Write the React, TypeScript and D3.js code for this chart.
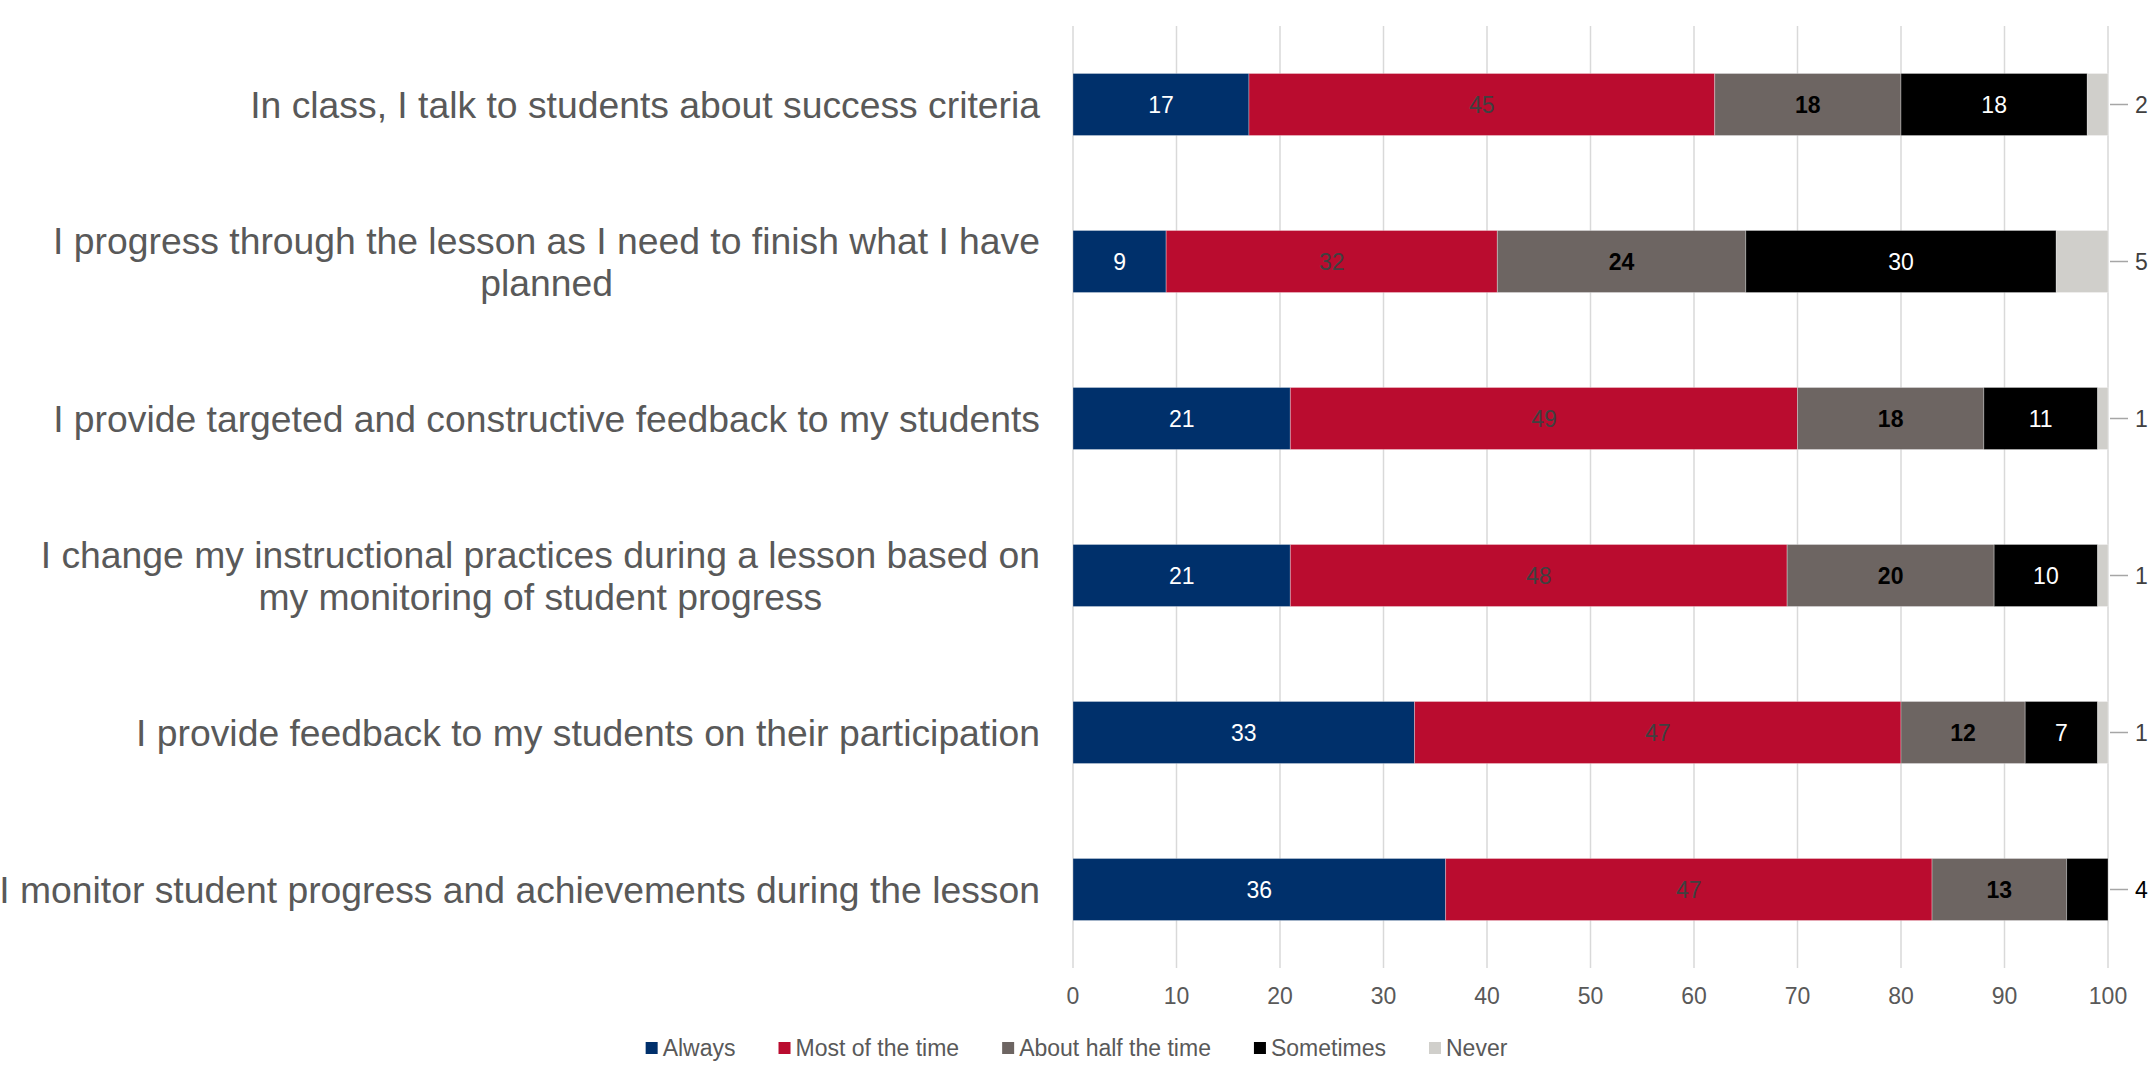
import React, { useRef, useEffect } from 'react';
import * as d3 from 'd3';

// survey items, bottom row of the picture last
const categoryLines = [
  ['In class, I talk to students about success criteria'],
  ['I progress through the lesson as I need to finish what I have', 'planned'],
  ['I provide targeted and constructive feedback to my students'],
  ['I change my instructional practices during a lesson based on', 'my monitoring of student progress'],
  ['I provide feedback to my students on their participation'],
  ['I monitor student progress and achievements during the lesson'],
];

const seriesNames = ['Always', 'Most of the time', 'About half the time', 'Sometimes', 'Never'];
const seriesColors = ['#00306B', '#BA0C2F', '#6D6562', '#000000', '#D0CFCB'];

const always = [17, 9, 21, 21, 33, 36];
const mostOfTheTime = [45, 32, 49, 48, 47, 47];
const aboutHalf = [18, 24, 18, 20, 12, 13];
const sometimes = [18, 30, 11, 10, 7, 4];
const never = [2, 5, 1, 1, 1, 0];

const xTicks = [0, 10, 20, 30, 40, 50, 60, 70, 80, 90, 100];

const W = 2153;
const H = 1081;
const FONT = '"Liberation Sans", Arial, sans-serif';

// inside label styles per series
const labelFill = ['#ffffff', '#404040', '#000000', '#ffffff', '#404040'];
const labelWeight = ['normal', 'normal', 'bold', 'normal', 'normal'];

export default function App() {
  const svgRef = useRef<SVGSVGElement>(null);

  useEffect(() => {
    if (!svgRef.current) return;
    const svg = d3.select(svgRef.current);
    svg.selectAll('*').remove();

    const margin = { top: 26, left: 1073, right: 45, bottom: 113 };

    const rows = categoryLines.map((_, i) => ({
      idx: i,
      [seriesNames[0]]: always[i],
      [seriesNames[1]]: mostOfTheTime[i],
      [seriesNames[2]]: aboutHalf[i],
      [seriesNames[3]]: sometimes[i],
      [seriesNames[4]]: never[i],
    }));

    const stacked = d3.stack<any>().keys(seriesNames)(rows);

    const x = d3.scaleLinear().domain([0, 100]).range([margin.left, W - margin.right]);
    const y = d3.scaleBand<number>()
      .domain(d3.range(categoryLines.length))
      .range([margin.top, H - margin.bottom])
      .paddingInner(0.605)
      .paddingOuter(0.3025);

    // gridlines
    svg.append('g')
      .selectAll('line')
      .data(xTicks)
      .join('line')
      .attr('x1', d => x(d))
      .attr('x2', d => x(d))
      .attr('y1', margin.top)
      .attr('y2', H - margin.bottom)
      .attr('stroke', '#d9d9d9')
      .attr('stroke-width', 1.5);

    // tick labels
    svg.append('g')
      .selectAll('text')
      .data(xTicks)
      .join('text')
      .attr('x', d => x(d))
      .attr('y', H - margin.bottom + 36)
      .attr('text-anchor', 'middle')
      .attr('fill', '#595959')
      .style('font-family', FONT)
      .style('font-size', '23px')
      .text(d => d);

    // bars
    stacked.forEach((layer, si) => {
      svg.append('g')
        .selectAll('rect')
        .data(layer)
        .join('rect')
        .attr('x', d => x(d[0]))
        .attr('y', (_, i) => y(i)!)
        .attr('width', d => Math.max(0, x(d[1]) - x(d[0])))
        .attr('height', y.bandwidth())
        .attr('fill', seriesColors[si])
        .attr('stroke', '#ffffff')
        .attr('stroke-opacity', 0.3)
        .attr('stroke-width', 1);
    });

    // data labels
    const labelsG = svg.append('g').style('font-family', FONT).style('font-size', '23px');
    rows.forEach((_, ri) => {
      const cy = y(ri)! + y.bandwidth() / 2;
      let lastIdx = -1;
      stacked.forEach((layer, si) => {
        if (layer[ri][1] - layer[ri][0] > 0) lastIdx = si;
      });
      stacked.forEach((layer, si) => {
        const v = layer[ri][1] - layer[ri][0];
        if (v <= 0) return;
        if (si === lastIdx && v < 6) {
          // small end segment: label outside with a leader line
          const x0 = x(100);
          labelsG.append('line')
            .attr('x1', x0 + 2)
            .attr('x2', x0 + 20)
            .attr('y1', cy)
            .attr('y2', cy)
            .attr('stroke', '#a6a6a6')
            .attr('stroke-width', 1.5);
          labelsG.append('text')
            .attr('x', x0 + 27)
            .attr('y', cy + 8)
            .attr('fill', si === 4 ? '#404040' : '#000000')
            .text(v);
        } else {
          labelsG.append('text')
            .attr('x', x((layer[ri][0] + layer[ri][1]) / 2))
            .attr('y', cy + 8)
            .attr('text-anchor', 'middle')
            .attr('fill', labelFill[si])
            .style('font-weight', labelWeight[si])
            .text(v);
        }
      });
    });

    // category labels
    const catG = svg.append('g')
      .style('font-family', FONT)
      .style('font-size', '37.3px')
      .attr('fill', '#595959');
    const lineH = 42;
    const labelRight = 1040;
    categoryLines.forEach((lines, i) => {
      const cy = y(i)! + y.bandwidth() / 2;
      const t = catG.append('text');
      const first = cy - ((lines.length - 1) * lineH) / 2 + 13;
      lines.forEach((ln, li) => {
        t.append('tspan').attr('y', first + li * lineH).text(ln);
      });
      // block right aligned, lines centred within the block
      const widths = t.selectAll<SVGTSpanElement, unknown>('tspan').nodes().map(n => n.getComputedTextLength());
      const blockW = Math.max(...widths);
      const centre = labelRight - blockW / 2;
      t.selectAll('tspan').attr('x', centre).attr('text-anchor', 'middle');
    });

    // legend
    const legY = 1048;
    const leg = svg.append('g').style('font-family', FONT).style('font-size', '23px');
    const items = seriesNames.map((name, i) => {
      const g = leg.append('g');
      g.append('rect').attr('width', 12).attr('height', 12).attr('y', legY - 6).attr('fill', seriesColors[i]);
      const txt = g.append('text').attr('x', 17).attr('y', legY + 8).attr('fill', '#595959').text(name);
      return { g, w: 17 + (txt.node() as SVGTextElement).getComputedTextLength() };
    });
    const gap = 43;
    const total = d3.sum(items, d => d.w) + gap * (items.length - 1);
    let cx = W / 2 - total / 2;
    items.forEach(it => {
      it.g.attr('transform', `translate(${cx},0)`);
      cx += it.w + gap;
    });
  }, []);

  return (
    <svg
      ref={svgRef}
      width={W}
      height={H}
      style={{ position: 'absolute', left: 0, top: 0, background: '#ffffff' }}
    />
  );
}
